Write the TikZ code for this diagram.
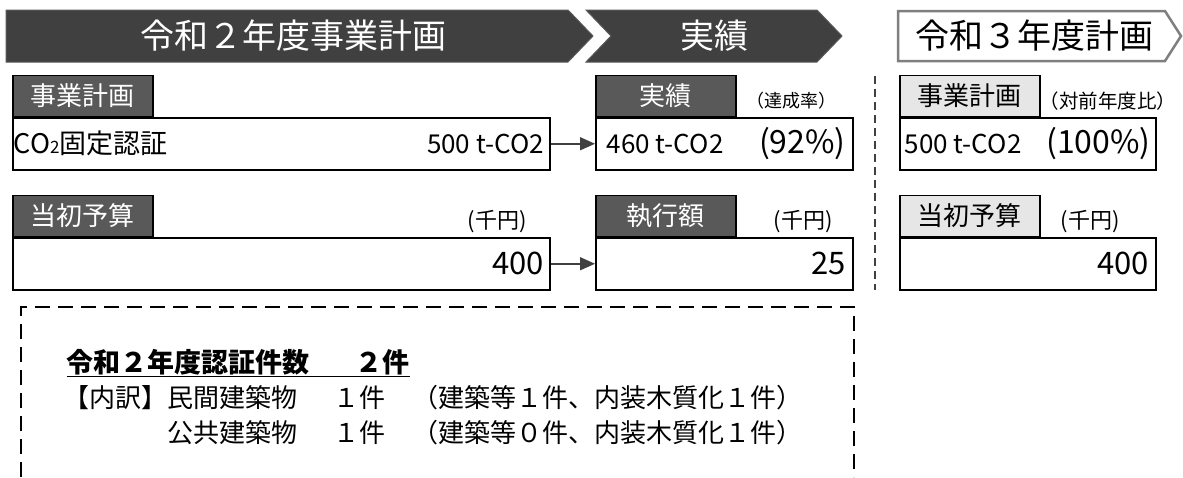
\documentclass[tikz,border=0pt]{standalone}
\usepackage{fontspec}
\setmainfont{Noto Sans CJK JP}
\usetikzlibrary{arrows.meta,positioning}
\definecolor{bannerdark}{HTML}{404040}
\definecolor{bannerline}{HTML}{7F7F7F}
\definecolor{tabdark}{HTML}{595959}
\definecolor{tablight}{HTML}{E7E6E6}

\begin{document}
\begin{tikzpicture}[x=1pt,y=-1pt,line width=1.5pt,>={Triangle[length=15pt,width=13pt]},
    fsize/.style={font=\fontsize{#1}{#1}\selectfont},
    valbox/.style={draw,minimum height=52pt,anchor=north west,inner sep=0pt},
    darktab/.style={draw,fill=tabdark,text=white,minimum width=140pt,minimum height=41pt,
        anchor=south west,inner sep=0pt,fsize=26},
    lighttab/.style={darktab,fill=tablight,text=black},
    bannertext/.style={inner sep=0pt,fsize=34}]
  \useasboundingbox (0,0) rectangle (1183,477);
  \filldraw[fill=bannerdark,draw=tabdark,line width=1pt] (6,10) -- (568,10) -- (593,36) -- (568,62) -- (6,62) -- cycle;
  \filldraw[fill=bannerdark,draw=tabdark,line width=1pt] (586,10) -- (817,10) -- (842,36) -- (817,62) -- (586,62) -- (611,36) -- cycle;
  \draw[bannerline,fill=white,line width=2.5pt] (898,11) -- (1165,11) -- (1181,36) -- (1165,61) -- (898,61) -- cycle;
  \node[bannertext,text=white] (titleA) at (293,36) {令和２年度事業計画};
  \node[bannertext,text=white] (titleB) at (714,36) {実績};
  \node[bannertext] (titleC) at (1034,36) {令和３年度計画};
  \draw[bannerdark,dash pattern=on 8pt off 5pt] (875,76) -- (875,290);

  \node[valbox,minimum width=537pt] (planbox) at (12,117) {};
  \node[valbox,minimum width=257pt] (resbox) at (595,117) {};
  \node[valbox,minimum width=256pt] (nextbox) at (899,117) {};
  \node[darktab] (plantab) at (planbox.north west) {事業計画};
  \node[darktab] (restab) at (resbox.north west) {実績};
  \node[lighttab] (nexttab) at (nextbox.north west) {事業計画};
  \node[fsize=18] (ratelbl) at (791,101) {（達成率）};
  \node[fsize=19.5] (ratiolbl) at (1108,101) {（対前年度比）};
  \node[anchor=west,inner sep=1pt,fsize=27] (co2) at (planbox.west) {CO{\fontsize{17}{17}\selectfont 2}固定認証};
  \node[anchor=east,inner sep=6pt,fsize=26] (planval) at (planbox.east) {500 t-CO2};
  \node[anchor=west,inner sep=11pt,fsize=26] (resval) at (resbox.west) {460 t-CO2};
  \node[anchor=east,inner sep=7pt,fsize=32] (resrate) at (resbox.east) {(92\%)};
  \node[anchor=west,inner sep=5pt,fsize=26] (nextval) at (nextbox.west) {500 t-CO2};
  \node[anchor=east,inner sep=5pt,fsize=32] (nextrate) at (nextbox.east) {(100\%)};
  \draw[->,bannerdark] (planbox) -- (resbox);

  \node[valbox,minimum width=537pt] (budgetbox) at (12,237) {};
  \node[valbox,minimum width=257pt] (spentbox) at (595,237) {};
  \node[valbox,minimum width=256pt] (nextbudget) at (899,237) {};
  \node[darktab] (budgettab) at (budgetbox.north west) {当初予算};
  \node[darktab] (spenttab) at (spentbox.north west) {執行額};
  \node[lighttab] (nextbudgettab) at (nextbudget.north west) {当初予算};
  \node[fsize=22] (unitA) at (497,222) {(千円)};
  \node[fsize=22] (unitB) at (803,222) {(千円)};
  \node[fsize=22] (unitC) at (1090,222) {(千円)};
  \node[anchor=east,inner sep=6pt,fsize=31] (budgetval) at (budgetbox.east) {400};
  \node[anchor=east,inner sep=7pt,fsize=31] (spentval) at (spentbox.east) {25};
  \node[anchor=east,inner sep=7pt,fsize=31] (nextbudgetval) at (nextbudget.east) {400};
  \draw[->,bannerdark] (budgetbox) -- (spentbox);

  \draw[line width=2pt,dash pattern=on 15pt off 8pt] (21,477) -- (21,307) -- (854,307) -- (854,477);
  \node[anchor=west,inner sep=0pt,font=\fontsize{27}{27}\selectfont\bfseries] (count) at (66,363)
    {\underline{令和２年度認証件数\hspace{46pt}２件}};
  \node[anchor=west,inner sep=0pt,fsize=26] (breakdown) at (63,398) {【内訳】};
  \node[anchor=east,inner sep=0pt,fsize=26] (private) at (298,398) {民間建築物};
  \node[anchor=west,inner sep=0pt,fsize=26] (privatenum) at (333,398) {１件};
  \node[anchor=west,inner sep=0pt,fsize=26] (privatedet) at (412,398) {（建築等１件、内装木質化１件）};
  \node[anchor=east,inner sep=0pt,fsize=26] (public) at (298,433) {公共建築物};
  \node[anchor=west,inner sep=0pt,fsize=26] (publicnum) at (333,433) {１件};
  \node[anchor=west,inner sep=0pt,fsize=26] (publicdet) at (412,433) {（建築等０件、内装木質化１件）};
\end{tikzpicture}
\end{document}
